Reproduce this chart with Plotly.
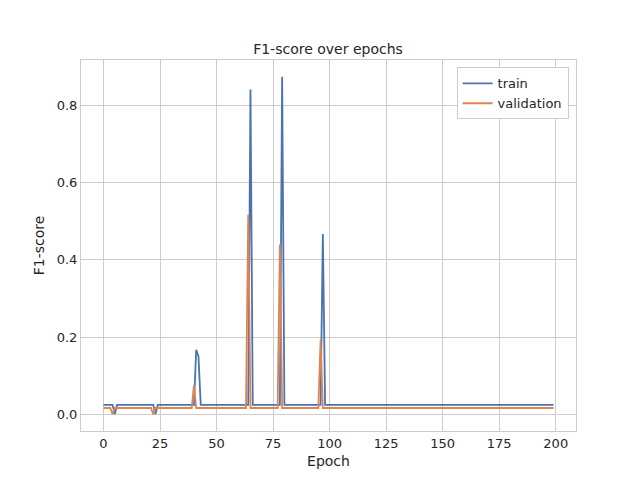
import plotly.graph_objects as go

epochs = list(range(200))
train_base = 0.024
val_base = 0.016
# epoch -> value where the curve leaves its baseline
train_peaks = {5: 0.0, 23: 0.0, 41: 0.167, 42: 0.15, 65: 0.842, 79: 0.875, 97: 0.467}
val_peaks = {4: 0.0, 22: 0.0, 40: 0.075, 64: 0.517, 78: 0.44, 96: 0.192}

train = [train_peaks.get(e, train_base) for e in epochs]
val = [val_peaks.get(e, val_base) for e in epochs]

fig = go.Figure()
fig.add_trace(go.Scatter(x=epochs, y=train, mode="lines", name="train",
                         line=dict(color="#4c72b0", width=1.8)))
fig.add_trace(go.Scatter(x=epochs, y=val, mode="lines", name="validation",
                         line=dict(color="#dd8452", width=1.8)))

axis = dict(showgrid=True, gridcolor="#cccccc", gridwidth=1, zeroline=False,
            showline=True, linecolor="#cccccc", linewidth=1, mirror=True,
            ticks="", tickfont=dict(size=13, color="#262626"))
fig.update_layout(
    width=640, height=480,
    paper_bgcolor="white", plot_bgcolor="white",
    font=dict(family="DejaVu Sans", color="#262626"),
    title=dict(text="F1-score over epochs", x=0.5, xanchor="center", y=0.925,
               font=dict(size=14)),
    margin=dict(l=73, r=72, t=52, b=57),
    xaxis=dict(axis, range=[-9.95, 208.95], tickvals=list(range(0, 201, 25)),
               title=dict(text="Epoch", font=dict(size=14), standoff=6)),
    yaxis=dict(axis, range=[-0.0437, 0.9185], tickvals=[0, 0.2, 0.4, 0.6, 0.8],
               tickformat=".1f",
               title=dict(text="F1-score", font=dict(size=14), standoff=8)),
    legend=dict(x=0.985, y=0.98, xanchor="right", yanchor="top",
                bgcolor="white", bordercolor="#cccccc", borderwidth=1,
                font=dict(size=13)),
    showlegend=True,
)
fig.write_html("out.html")
